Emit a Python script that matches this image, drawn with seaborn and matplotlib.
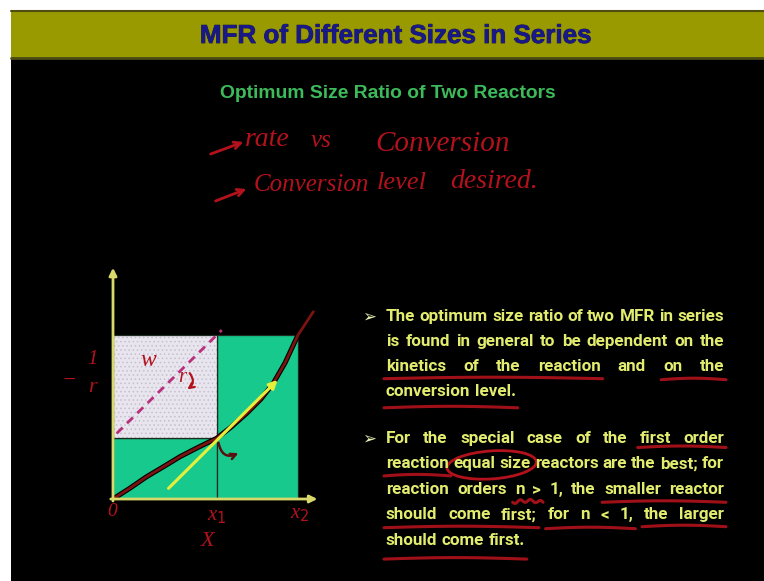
import numpy as np
import pandas as pd
import matplotlib
matplotlib.use("Agg")
import matplotlib.pyplot as plt
import matplotlib.patheffects as pe
from matplotlib.patches import Rectangle, Ellipse
import seaborn as sns

# ---------------- data ----------------
# conversion X and the inverse rate (-1/r) along the kinetic curve
conversion = [0.0, 0.09, 0.182, 0.27, 0.362, 0.46, 0.560, 0.64, 0.723, 0.80, 0.866, 0.93, 1.0, 1.083]
inv_rate = [0.0, 0.065, 0.136, 0.195, 0.258, 0.315, 0.370, 0.44, 0.523, 0.61, 0.705, 0.83, 1.0, 1.142]
x1, x2 = 0.56, 1.0          # exit conversions of reactor 1 and 2
y1, y2 = 0.37, 1.0          # -1/r at x1 and x2
tangent_x = [0.30, 0.89]
tangent_y = [0.065, 0.726]
diag_x = [0.02, 0.588]
diag_y = [0.40, 1.03]

title = "MFR of Different Sizes in Series"
subtitle = "Optimum Size Ratio of Two Reactors"
para1 = ["The optimum size ratio of two MFR in series",
         "is found in general to be dependent on the",
         "kinetics of the reaction and on the",
         "conversion level."]
para2 = ["For the special case of the first order",
         "reaction equal size reactors are the best; for",
         "reaction orders n > 1, the smaller reactor",
         "should come first; for n < 1, the larger",
         "should come first."]
notes_top = ["rate", "vs", "Conversion", "Conversion", "level", "desired."]

# ---------------- style ----------------
sns.set_theme(style="white")
plt.rcParams["font.family"] = ["DejaVu Sans"]
W, H = 764, 581
OLIVE = "#999900"
GREEN = "#17c98c"
BODY = "#e2ec6e"
INK = "#b3121c"
BODY_FONT = ["Roboto", "DejaVu Sans"]
TITLE_FONT = ["Liberation Sans Narrow", "Liberation Sans", "DejaVu Sans"]
HAND_FONT = ["Liberation Serif", "DejaVu Serif"]

fig = plt.figure(figsize=(W / 100, H / 100), dpi=100, facecolor="white")

# slide background
ax_bg = fig.add_axes([0, 0, 1, 1], zorder=0)
ax_bg.set_xlim(0, W)
ax_bg.set_ylim(H, 0)
ax_bg.axis("off")
ax_bg.add_patch(Rectangle((11, 59), W - 11, H - 59, color="black", lw=0))
ax_bg.add_patch(Rectangle((11, 10), W - 11, 49, facecolor=OLIVE, edgecolor="none"))
ax_bg.plot([11, W], [11, 11], color="#4f4f12", lw=1.5)
ax_bg.plot([11, W], [57.5, 57.5], color="#4a4a14", lw=2)

# ---------------- diagram ----------------
PX0, PY0, SX, SY = 113, 499, 185, 164
ax_d = fig.add_axes([80 / W, (H - 560) / H, 250 / W, 300 / H], zorder=2)
ax_d.set_xlim((80 - PX0) / SX, (330 - PX0) / SX)
ax_d.set_ylim((PY0 - 560) / SY, (PY0 - 260) / SY)
ax_d.patch.set_alpha(0)
ax_d.axis("off")

edge = "#1c2a20"
ax_d.add_patch(Rectangle((0, 0), x1, y1, fc=GREEN, ec=edge, lw=0.9, zorder=1))
ax_d.add_patch(Rectangle((x1, 0), x2 - x1, y2, fc=GREEN, ec=edge, lw=0.9, zorder=1))
ax_d.add_patch(Rectangle((0, y1), x1, y2 - y1, fc="#e8e5ee", ec="none", zorder=1))
plt.rcParams["hatch.linewidth"] = 0.6
ax_d.add_patch(Rectangle((0, y1), x1, y2 - y1, fc="none", ec="#c4c0cf", lw=0,
                         hatch="....", zorder=1.1))
ax_d.add_patch(Rectangle((0, y1), x1, y2 - y1, fc="none", ec=edge, lw=0.9, zorder=1.2))

ax_d.plot(diag_x, diag_y, color="#b8307c", lw=2, ls=(0, (3, 2.2)), zorder=2)

df = pd.DataFrame({"conversion": conversion, "inv_rate": inv_rate})
sns.lineplot(data=df, x="conversion", y="inv_rate", ax=ax_d, color="#7b1410",
             lw=2.0, estimator=None, zorder=3)
ax_d.lines[-1].set_path_effects([pe.Stroke(linewidth=3.6, foreground="black"), pe.Normal()])
ax_d.axis("off")

ax_d.annotate("", xy=(tangent_x[1], tangent_y[1]), xytext=(tangent_x[0], tangent_y[0]),
              arrowprops=dict(arrowstyle="-|>", color="#e6f03c", lw=2.2,
                              mutation_scale=12, shrinkA=0, shrinkB=0), zorder=4)
axis_col = "#d9d86a"
ax_d.annotate("", xy=(0, 1.41), xytext=(0, -0.012),
              arrowprops=dict(arrowstyle="-|>", color=axis_col, lw=2,
                              mutation_scale=11, shrinkA=0, shrinkB=0), zorder=5)
ax_d.annotate("", xy=(1.105, 0), xytext=(-0.012, 0),
              arrowprops=dict(arrowstyle="-|>", color=axis_col, lw=2,
                              mutation_scale=11, shrinkA=0, shrinkB=0), zorder=5)

# ---------------- text layer ----------------
ax_t = fig.add_axes([0, 0, 1, 1], zorder=5)
ax_t.set_xlim(0, W)
ax_t.set_ylim(H, 0)
ax_t.patch.set_alpha(0)
ax_t.axis("off")
R = fig.canvas.get_renderer()


def width(t):
    return t.get_window_extent(R).width


def fit(t, target):
    t.set_fontsize(t.get_fontsize() * target / width(t))
    return t


t = ax_t.text(396, 36, title, ha="center", va="center", fontsize=20, fontweight="bold",
              color="#18188a", family=TITLE_FONT)
fit(t, 392)
t.set_path_effects([pe.withStroke(linewidth=0.6, foreground="#20203a")])

t = ax_t.text(388, 94, subtitle, ha="center", va="center", fontsize=14, fontweight="bold",
              color="#3dbb5a", family=TITLE_FONT)
fit(t, 336)

# body paragraphs, justified
probe = ax_t.text(0, 0, "should come first.", fontsize=12, fontweight="bold", family=BODY_FONT)
BFS = 12 * 138 / width(probe)
probe.remove()
sp = ax_t.text(0, 0, "n n", fontsize=BFS, fontweight="bold", family=BODY_FONT)
sp2 = ax_t.text(0, 0, "nn", fontsize=BFS, fontweight="bold", family=BODY_FONT)
SPACE = width(sp) - width(sp2)
sp.remove()
sp2.remove()

XL, XR = 386, 724


def paragraph(lines, y0, dy):
    out = []
    for i, line in enumerate(lines):
        y = y0 + i * dy
        words = line.split()
        arts = [ax_t.text(XL, y, w, fontsize=BFS, fontweight="bold", color=BODY,
                          family=BODY_FONT, va="center", ha="left") for w in words]
        ws = [width(a) for a in arts]
        last = i == len(lines) - 1
        gap = SPACE if last else (XR - XL - sum(ws)) / (len(words) - 1)
        x = XL
        pos = []
        for a, w in zip(arts, ws):
            a.set_x(x)
            pos.append((x, x + w, y))
            x += w + gap
        out.append(pos)
    return out


p1 = paragraph(para1, 316.5, 25.1)
p2 = paragraph(para2, 438.5, 25.4)
for yb in (316.5, 438.5):
    ax_t.text(369, yb, "\u27a2", fontsize=12, color="#e6eeb0", ha="center", va="center",
              family=["DejaVu Sans"])


def underline(par, li, w0, w1, dy, wave=0.0, ext=2):
    xa = par[li][w0][0] - ext
    xb = par[li][w1][1] + ext
    y = par[li][w0][2] + dy
    xs = np.linspace(xa, xb, 40)
    u = (xs - xa) / (xb - xa)
    ys = y - 1.5 * np.sin(np.pi * u) + wave * np.sin(6 * np.pi * u)
    ax_t.plot(xs, ys, color=INK, lw=2.2, alpha=0.9, solid_capstyle="round")


underline(p1, 2, 0, 3, 12)
underline(p1, 2, 5, 6, 13)
underline(p1, 3, 0, 1, 16)
underline(p2, 0, 6, 7, 9)
underline(p2, 1, 0, 0, 12)
underline(p2, 2, 2, 3, 13, wave=1.5)
underline(p2, 2, 6, 7, 13)
underline(p2, 3, 0, 2, 13)
underline(p2, 3, 3, 6, 14)
underline(p2, 3, 7, 8, 12)
underline(p2, 4, 0, 2, 19)
ea, eb, ey = p2[1][1][0], p2[1][2][1], p2[1][1][2]
ax_t.add_patch(Ellipse(((ea + eb) / 2, ey + 1), eb - ea + 12, 28, angle=-4,
                       fc="none", ec=INK, lw=2))

# handwritten notes
hand = [(notes_top[0], 245, 139, 20), (notes_top[1], 311, 141, 18),
        (notes_top[2], 375, 144, 21), (notes_top[3], 254, 185, 18),
        (notes_top[4], 377, 183, 19), (notes_top[5], 450, 181, 20)]
for word, xa, y, fs in hand:
    ax_t.text(xa, y, word, fontsize=fs, style="italic", color=INK, family=HAND_FONT,
              ha="left", va="center")
for (xa, ya), (xb, yb) in [((208, 155), (246, 141)), ((213, 202), (249, 188))]:
    ax_t.annotate("", xy=(xb, yb), xytext=(xa, ya),
                  arrowprops=dict(arrowstyle="->", color=INK, lw=2, mutation_scale=12))

hand_kw = dict(color=INK, family=HAND_FONT, style="italic", ha="center", va="center")
ax_t.text(69, 381, "\u2212", fontsize=16, **hand_kw)
ax_t.text(93, 360, "1", fontsize=15, **hand_kw)
ax_t.text(92, 387, "r", fontsize=16, **hand_kw)
ax_t.text(148, 361, "w", fontsize=17, **hand_kw)
ax_t.text(182, 377, "r", fontsize=15, **hand_kw)
ax_t.annotate("", xy=(185, 391), xytext=(188, 371),
              arrowprops=dict(arrowstyle="->", color=INK, lw=1.6, mutation_scale=9,
                              connectionstyle="arc3,rad=-0.6"))
ax_t.annotate("", xy=(241, 452), xytext=(218, 440),
              arrowprops=dict(arrowstyle="->", color="#5a1010", lw=1.8, mutation_scale=10,
                              connectionstyle="arc3,rad=0.7"))
ax_t.text(112, 511, "0", fontsize=14, **hand_kw)
ax_t.text(217, 517, "x$_1$", fontsize=15, **hand_kw)
ax_t.text(300, 515, "x$_2$", fontsize=15, **hand_kw)
ax_t.text(208, 541, "X", fontsize=16, **hand_kw)

fig.savefig("out.png", dpi=100, facecolor=fig.get_facecolor())
